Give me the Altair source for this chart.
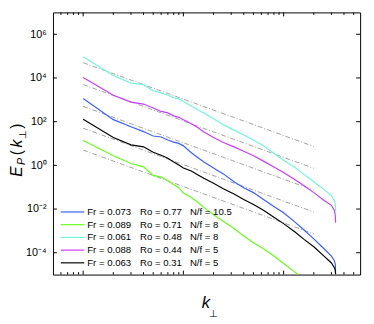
import altair as alt
import pandas as pd

# ---------------- data ----------------
k_main = [1, 2, 3, 4, 5, 6, 7, 8, 9, 10, 12, 14, 16, 20, 25, 32, 40, 50, 63, 80,
          100, 130, 160, 200, 250, 300, 320, 328, 330]
E_blue = [1156, 124, 58.9, 35.1, 22.0, 19.8, 14.5, 11.6, 10.1, 7.8, 3.77, 2.25, 1.41,
          0.756, 0.406, 0.177, 0.0949, 0.0565, 0.0274, 0.0132, 0.00675, 0.00252,
          0.0011, 4.32e-4, 1.61e-4, 7.03e-5, 4.41e-5, 2.91e-5, 1.0e-5]
E_cyan = [9.3e4, 1.30e4, 5.83e3, 4.94e3, 2.60e3, 2.07e3, 1.63e3, 1.23e3, 1.13e3, 830,
          520, 344, 252, 135, 72.5, 41, 24.4, 14.5, 7.8, 3.58, 1.73, 0.796, 0.385,
          0.177, 0.0813, 0.0414, 0.0247, 0.0163, 0.0079]
E_magenta = [1.05e4, 1630, 788, 640, 423, 294, 252, 184, 158, 122, 80.4, 53.1, 33.3,
             18.8, 11.2, 7.03, 4.41, 2.76, 1.56, 0.838, 0.474, 0.218, 0.117, 0.0565,
             0.026, 0.0147, 0.00873, 0.0052, 0.00239]
E_black = [128, 18.8, 8.65, 7.03, 3.97, 2.91, 2.13, 1.41, 1.03, 0.756, 0.554, 0.366,
           0.254, 0.151, 0.0855, 0.0484, 0.0274, 0.0163, 0.00873, 0.00423, 0.00215,
           8.92e-4, 4.10e-4, 1.88e-4, 7.4e-5, 3.40e-5, 2.13e-5, 1.56e-5, 1.0e-5]
k_green = [1, 2, 3, 4, 5, 6, 7, 8, 9, 10, 12, 14, 16, 20, 25, 32, 40, 50, 63, 80,
           100, 125, 140]
E_green = [13.8, 2.76, 1.21, 0.856, 0.347, 0.291, 0.196, 0.130, 0.0949, 0.0537,
           0.0337, 0.020, 0.0119, 0.00548, 0.00279, 0.00128, 5.89e-4, 2.85e-4,
           1.53e-4, 7.03e-5, 3.23e-5, 1.48e-5, 1.0e-5]

fr_labels = ["Fr = 0.073", "Fr = 0.089", "Fr = 0.061", "Fr = 0.088", "Fr = 0.063"]
ro_labels = ["Ro = 0.77", "Ro = 0.71", "Ro = 0.48", "Ro = 0.44", "Ro = 0.31"]
nf_labels = ["N/f = 10.5", "N/f = 8", "N/f = 8", "N/f = 5", "N/f = 5"]
series_colors = ["#3a5fff", "#66ff1a", "#72f5d8", "#c83cff", "#000000"]

# k^(-5/3) reference lines
ref_amplitudes = [5e4, 5e3, 5e2, 5e1, 5.0]
ref_k = [1, 200]
ref_exponent = -5.0 / 3.0

x_major = [1, 10, 100]
x_minor = [0.6, 0.7, 0.8, 0.9, 2, 3, 4, 5, 6, 7, 8, 9,
           20, 30, 40, 50, 60, 70, 80, 90, 200, 300, 400, 500]
y_major = [1e-4, 1e-2, 1, 1e2, 1e4, 1e6]

# ---------------- tables ----------------
series_ids = ["s0", "s1", "s2", "s3", "s4"]
curve_k = [k_main, k_green, k_main, k_main, k_main]
curve_E = [E_blue, E_green, E_cyan, E_magenta, E_black]
rows = []
for sid, ks, es in zip(series_ids, curve_k, curve_E):
    for i, (k, e) in enumerate(zip(ks, es)):
        rows.append({"s": sid, "k": k, "E": e, "i": i})
curves_df = pd.DataFrame(rows)

ref_rows = []
for j, a in enumerate(ref_amplitudes):
    for k in ref_k:
        ref_rows.append({"r": j, "k": k, "E": a * k ** ref_exponent})
ref_df = pd.DataFrame(ref_rows)

legend_df = pd.DataFrame({"row": list(range(5)), "s": series_ids,
                          "fr": fr_labels, "ro": ro_labels, "nf": nf_labels})

FONT = "Liberation Sans, Arial, Helvetica, sans-serif"
W, H = 314, 268

xs = alt.Scale(type="log", domain=[0.5, 580], nice=False)
ys = alt.Scale(type="log", domain=[1e-5, 1e7], nice=False)
cs = alt.Scale(domain=series_ids, range=series_colors)

sup = {-4: "10⁻⁴", -2: "10⁻²", 0: "10⁰", 1: "10¹", 2: "10²", 4: "10⁴", 6: "10⁶"}
lab_expr = "".join(
    f"round(log(datum.value)/LN10)=={e} ? '{t}' : " for e, t in sup.items()
) + "''"

refs = alt.Chart(ref_df).mark_line(
    color="#8a8a8a", strokeWidth=0.8, strokeDash=[5, 2, 1, 2], clip=True
).encode(
    x=alt.X("k:Q", scale=xs, axis=None),
    y=alt.Y("E:Q", scale=ys, axis=None),
    detail="r:N",
)

curves = alt.Chart(curves_df).mark_line(strokeWidth=1.2, clip=True).encode(
    x=alt.X("k:Q", scale=xs, axis=alt.Axis(
        values=x_major, labelExpr=lab_expr, ticks=False, tickSize=0, domain=False,
        grid=False, labelPadding=5, labelFont=FONT, labelFontSize=11,
        labelColor="black", title=None, orient="bottom")),
    y=alt.Y("E:Q", scale=ys, axis=alt.Axis(
        values=y_major, labelExpr=lab_expr, ticks=False, tickSize=0, domain=False,
        grid=False, labelPadding=7, labelFont=FONT, labelFontSize=11,
        labelColor="black", title=None, orient="left")),
    color=alt.Color("s:N", scale=cs, legend=None),
    detail="s:N",
    order="i:Q",
)

xmaj_df = pd.DataFrame({"v": x_major})
xmin_df = pd.DataFrame({"v": x_minor})
ymaj_df = pd.DataFrame({"v": y_major})


def xtick(df, y0, y1):
    return alt.Chart(df).mark_rule(color="black", strokeWidth=1).encode(
        x=alt.X("v:Q", scale=xs, axis=None), y=alt.value(y0), y2=alt.value(y1))


def ytick(df, x0, x1):
    return alt.Chart(df).mark_rule(color="black", strokeWidth=1).encode(
        y=alt.Y("v:Q", scale=ys, axis=None), x=alt.value(x0), x2=alt.value(x1))


ticks = [
    xtick(xmaj_df, H, H - 4), xtick(xmin_df, H, H - 2.5),
    xtick(xmaj_df, 0, 4), xtick(xmin_df, 0, 2.5),
    ytick(ymaj_df, 0, 4), ytick(ymaj_df, W, W - 4),
]

row_scale = alt.Scale(type="point", domain=list(range(5)), range=[204, 256], padding=0)
leg_lines = alt.Chart(legend_df).mark_rule(strokeWidth=1.2).encode(
    x=alt.value(8), x2=alt.value(32),
    y=alt.Y("row:O", scale=row_scale, axis=None),
    color=alt.Color("s:N", scale=cs, legend=None),
)
leg_texts = [
    alt.Chart(legend_df).mark_text(align="left", baseline="middle", font=FONT,
                                   fontSize=9.8, color="black").encode(
        x=alt.value(xp), y=alt.Y("row:O", scale=row_scale, axis=None), text=f"{col}:N")
    for xp, col in [(35, "fr"), (89, "ro"), (140, "nf")]
]


def label_piece(text, size, italic, x, y, angle=0):
    kw = dict(align="left", baseline="alphabetic", font=FONT, fontSize=size,
              color="black", angle=angle)
    if italic:
        kw["fontStyle"] = "italic"
    return alt.Chart(pd.DataFrame({"t": [text]})).mark_text(**kw).encode(
        x=alt.value(x), y=alt.value(y), text="t:N")


titles = [
    label_piece("E", 16, True, -32, 168, 270),
    label_piece("P", 11, True, -28.5, 156, 270),
    label_piece("(", 16, False, -32, 146, 270),
    label_piece("k", 16, True, -32, 138, 270),
    label_piece("⊥", 10, False, -28, 129, 270),
    label_piece(")", 16, False, -32, 119, 270),
    label_piece("k", 17, True, 152, 302.5),
    label_piece("⊥", 10, False, 160, 311),
]

chart = alt.layer(refs, curves, *ticks, leg_lines, *leg_texts, *titles).resolve_scale(
    y="independent"
).properties(
    width=W, height=H,
    autosize=alt.AutoSizeParams(type="none"),
    padding={"left": 46, "top": 1, "right": 6, "bottom": 47},
    background="white",
).configure_view(stroke="black", strokeWidth=1)

chart.save("out.html", embed_options={"renderer": "svg", "actions": False})
